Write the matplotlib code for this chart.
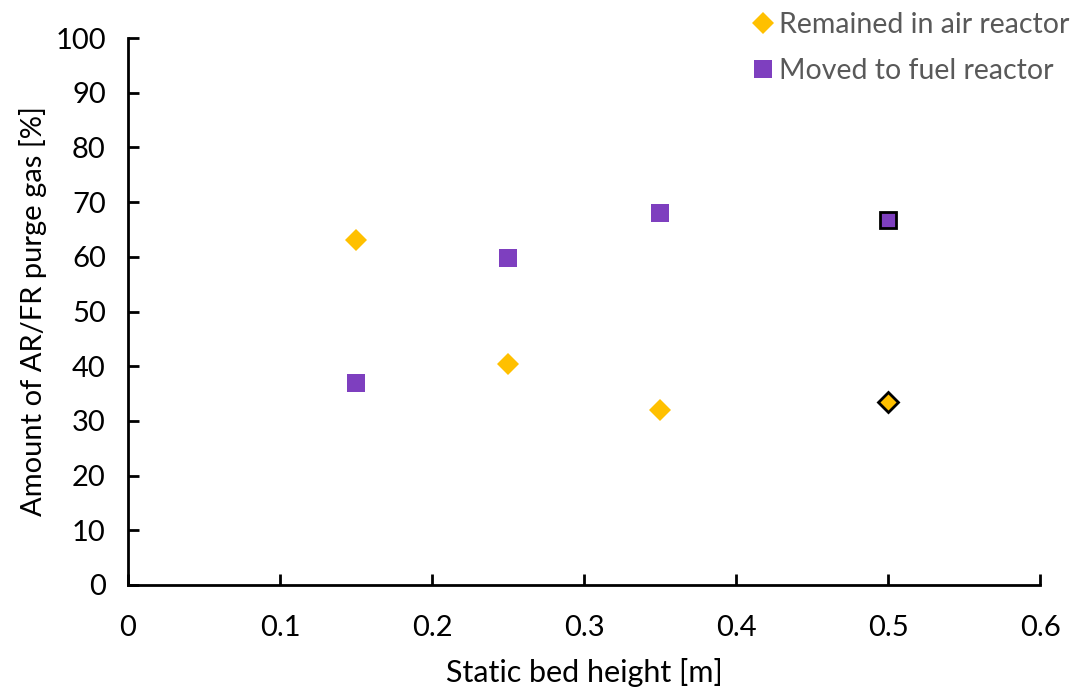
import matplotlib.pyplot as plt

plt.rcParams['font.family'] = ['Lato', 'DejaVu Sans']

# static bed heights [m]
height = [0.15, 0.25, 0.35, 0.5]
# share of purge gas [%]
remained_ar = [63.1, 40.4, 31.9, 33.5]
moved_fr = [36.9, 59.8, 68.1, 66.7]

fig = plt.figure(figsize=(10.8, 6.93), dpi=100)
ax = fig.add_axes([0.1185, 0.156, 0.8445, 0.789])

ax.plot(height[:3], remained_ar[:3], 'D', color='#FFC000', markersize=11,
        markeredgewidth=0, label='Remained in air reactor')
ax.plot(height[:3], moved_fr[:3], 's', color='#7E3FBF', markersize=13,
        markeredgewidth=0, label='Moved to fuel reactor')
# last point highlighted with a black edge
ax.plot(height[3:], remained_ar[3:], 'D', color='#FFC000', markersize=10,
        markeredgecolor='black', markeredgewidth=2)
ax.plot(height[3:], moved_fr[3:], 's', color='#7E3FBF', markersize=12,
        markeredgecolor='black', markeredgewidth=2)

ax.set_xlim(0, 0.6)
ax.set_ylim(0, 100)
ax.set_xticks([0, 0.1, 0.2, 0.3, 0.4, 0.5, 0.6])
ax.set_xticklabels(['0', '0.1', '0.2', '0.3', '0.4', '0.5', '0.6'])
ax.set_yticks(range(0, 101, 10))

for s in ['top', 'right']:
    ax.spines[s].set_visible(False)
for s in ['left', 'bottom']:
    ax.spines[s].set_linewidth(2)
ax.tick_params(direction='in', length=8, width=2, labelsize=21)
ax.tick_params(axis='x', pad=22)
ax.tick_params(axis='y', pad=16)

ax.set_xlabel('Static bed height [m]', fontsize=22, labelpad=12)
ax.set_ylabel('Amount of AR/FR purge gas [%]', fontsize=21, labelpad=6)

leg = ax.legend(loc='upper right', bbox_to_anchor=(1.003, 1.003),
                bbox_transform=fig.transFigure, frameon=False,
                fontsize=20.5, handletextpad=0.05, handlelength=1.0,
                borderaxespad=0.1, labelspacing=0.7)
for t in leg.get_texts():
    t.set_color('#595959')

fig.savefig('out.png', dpi=100)
